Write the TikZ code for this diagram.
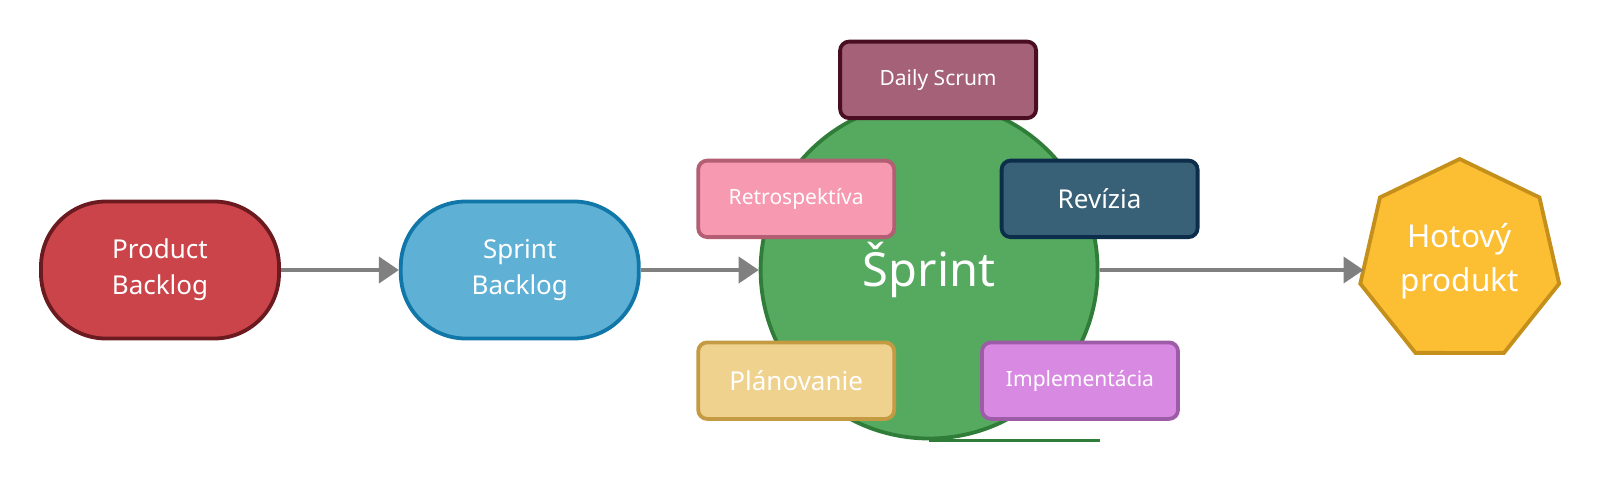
\documentclass[tikz,border=0pt]{standalone}
\usepackage{fontspec}
\setmainfont{Noto Sans}
\usetikzlibrary{shapes.geometric, arrows.meta, positioning}
\definecolor{pbred}{HTML}{CB444A}
\definecolor{pbredline}{HTML}{6B1A1F}
\definecolor{sbblue}{HTML}{5EB0D5}
\definecolor{sbblueline}{HTML}{1177A8}
\definecolor{sprintgreen}{HTML}{55AA60}
\definecolor{sprintgreenline}{HTML}{2F7D38}
\definecolor{dailyplum}{HTML}{A46177}
\definecolor{dailyplumline}{HTML}{4A0E22}
\definecolor{retropink}{HTML}{F799B0}
\definecolor{retropinkline}{HTML}{B35E73}
\definecolor{revblue}{HTML}{386178}
\definecolor{revblueline}{HTML}{0D2E4A}
\definecolor{plansand}{HTML}{F0D28F}
\definecolor{plansandline}{HTML}{C49A42}
\definecolor{implviolet}{HTML}{D88AE2}
\definecolor{implvioletline}{HTML}{9E5CA8}
\definecolor{doneorange}{HTML}{FCBE32}
\definecolor{doneorangeline}{HTML}{C48F1A}
\tikzstyle{backlog} = [rectangle, rounded corners=65pt, minimum width=238pt, minimum height=137pt, text centered, align=center, line width=3.8pt, text=white, font=\fontsize{26}{36}\selectfont]
\tikzstyle{arrow} = [line width=4pt, draw=gray, -{Triangle[length=20pt, width=26pt]}]

\begin{document}
\begin{tikzpicture}[node distance=118pt]
    \tikzstyle{smallbox} = [rectangle, rounded corners=9pt, minimum width=196pt, minimum height=76.5pt, text centered, line width=3.8pt, text=white, font=\fontsize{21}{26}\selectfont]
    \useasboundingbox (0,0) rectangle (1601pt,-480pt);

    \node (productBacklog) [backlog, draw=pbredline, fill=pbred] at (160pt,-270pt) {Product\\Backlog};
    \node (sprintBacklog) [backlog, draw=sbblueline, fill=sbblue, right=of productBacklog] {Sprint\\Backlog};
    \node (sprint) [circle, minimum size=337pt, inner sep=0pt, line width=3.8pt, draw=sprintgreenline, fill=sprintgreen, text=white, font=\fontsize{47}{56}\selectfont, right=118pt of sprintBacklog] {Šprint};
    \draw [line width=3.8pt, sprintgreenline] (sprint.south) -- (sprint.south -| sprint.east);

    \node (daily) [smallbox, draw=dailyplumline, fill=dailyplum, above=150pt of sprint.center, xshift=9pt] {Daily Scrum};
    \node (retro) [smallbox, draw=retropinkline, fill=retropink, above left=31pt and 33pt of sprint.center] {Retrospektíva};
    \node (review) [smallbox, draw=revblueline, fill=revblue, font=\fontsize{26}{30}\selectfont, above right=31pt and 70.6pt of sprint.center] {Revízia};
    \node (planning) [smallbox, draw=plansandline, fill=plansand, font=\fontsize{26}{30}\selectfont, below left=70.5pt and 33pt of sprint.center] {Plánovanie};
    \node (impl) [smallbox, draw=implvioletline, fill=implviolet, below right=70.5pt and 51pt of sprint.center] {Implementácia};

    \node (done) [regular polygon, regular polygon sides=7, minimum size=204pt, inner sep=0pt, line width=3.8pt, draw=doneorangeline, fill=doneorange, text=white, align=center, font=\fontsize{31.5}{44}\selectfont, right=264pt of sprint, yshift=9pt] {Hotový\\produkt};

    \draw [arrow] (productBacklog) -- (sprintBacklog);
    \draw [arrow] (sprintBacklog) -- (sprint);
    \draw [arrow] (sprint) -- (sprint -| done.west);
  \end{tikzpicture}
\end{document}
